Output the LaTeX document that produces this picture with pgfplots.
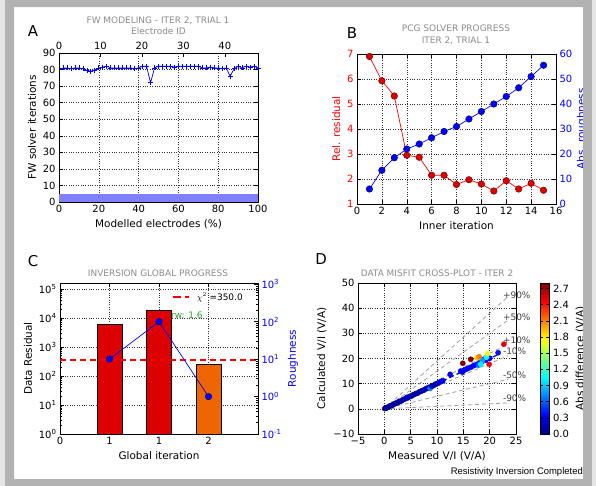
\documentclass[border=0pt]{standalone}
\usepackage{fontspec}
\setmainfont{DejaVu Sans}
\newfontfamily\liberation{Liberation Sans}
\usepackage{pgfplots}
\usepackage{pgfplotstable}
\pgfplotsset{compat=1.18}

\definecolor{barred}{RGB}{221,0,0}
\definecolor{barorange}{RGB}{238,102,0}
\definecolor{ttlgray}{RGB}{140,140,140}
\definecolor{framegray}{RGB}{178,178,178}
\definecolor{rwgreen}{RGB}{40,160,40}

\newcommand{\fs}[1]{\fontsize{#1}{#1}\selectfont}

\pgfplotsset{
  mpl/.style={
    scale only axis,
    tick align=inside,
    major tick length=4bp,
    minor tick length=2bp,
    tick style={black, line width=0.5pt},
    axis line style={black, line width=0.6pt},
    grid=major,
    grid style={dotted, black!80, line width=0.5pt},
    tick label style={font=\fs{10}},
    label style={font=\fs{10.5}},
    /pgf/number format/assume math mode=true,
  },
}
\tikzset{pctlab/.style={black!75, anchor=west, font=\fs{9}, inner sep=0pt}}

% FW solver iterations per modelled electrode (%)
\pgfplotstableread{
pct iters
2 81
4 81
6 80.5
8 81
10 81
12 80.5
14 79.5
16 79
18 79.5
20 81
22 81.5
24 82
26 81
28 81
30 81
32 81
34 81
36 81
38 80.5
40 81
42 82
44 82
46 72
48 81
50 82
52 82
54 82
56 82
58 81.5
60 82
62 82
64 82
66 82
68 82
70 82
72 81
74 81
76 81.5
78 81
80 81
82 80.5
84 81
86 76
88 80.5
90 82
92 81
94 82
96 81.5
98 82
100 81
}\fwdata

% measured, calculated, abs difference
\pgfplotstableread{
meas calc diff
0.1 0.1 0.0
0.2 0.3 0.05
0.3 0.2 0.1
0.4 0.5 0.05
0.6 0.6 0.0
0.8 0.7 0.1
1.0 1.1 0.1
1.2 1.2 0.0
1.5 1.4 0.1
1.7 1.8 0.1
2.0 2.0 0.05
2.2 2.3 0.1
2.5 2.4 0.1
2.8 2.9 0.1
3.0 3.0 0.05
3.3 3.2 0.1
3.6 3.7 0.15
3.9 3.9 0.05
4.2 4.3 0.1
4.3 4.6 0.35
4.5 4.4 0.2
4.8 4.9 0.1
5.1 5.0 0.1
5.4 5.5 0.15
5.7 5.7 0.05
6.0 6.1 0.1
6.3 6.2 0.15
6.6 6.7 0.1
6.9 6.9 0.05
7.2 7.3 0.2
7.5 7.4 0.15
7.8 7.9 0.1
8.1 8.1 0.1
8.4 8.5 0.2
8.7 8.1 0.7
9.0 9.1 0.15
9.3 9.2 0.1
9.6 9.7 0.2
9.9 10.0 0.1
10.2 10.2 0.15
10.5 10.6 0.2
10.8 10.9 0.25
11.1 11.2 0.3
12.5 13.7 0.35
14.5 15.0 0.35
14.8 14.6 0.3
15.2 15.4 0.3
15.6 15.8 0.35
16.0 16.2 0.3
16.5 16.6 0.35
17.0 17.2 0.3
17.5 17.6 0.35
18.0 18.3 0.4
18.5 18.7 0.35
18.8 19.6 0.4
19.2 19.3 0.35
19.5 20.0 0.4
20.0 20.1 0.35
21.6 22.3 0.4
17.9 17.4 0.6
18.6 19.1 0.8
18.3 17.7 1.0
19.4 20.5 1.1
19.6 22.0 1.7
17.6 20.2 1.9
18.0 20.7 2.1
19.9 17.7 2.5
22.7 25.7 2.5
14.9 18.1 2.8
16.4 19.7 2.8
}\misfit

\begin{document}
\begin{tikzpicture}
\useasboundingbox (0,0) rectangle (596bp,-486bp);
\fill[white] (0,0) rectangle (596bp,-486bp);

% ---------------- A
\begin{axis}[mpl, at={(59bp,-202bp)}, anchor=south west,
  width=199bp, height=149bp,
  xmin=0, xmax=100, ymin=0, ymax=90,
  xtick={0,20,...,100}, ytick={0,10,...,90},
  xtick pos=bottom, ytick pos=both,
  xlabel={Modelled electrodes (\%)},
  ylabel={FW solver iterations}]
\addplot[draw=none, fill=blue!50] coordinates {(0,0) (100,0) (100,5) (0,5)} -- cycle;
\addplot[blue, line width=0.7pt, mark=+, mark size=2.5bp] table[x=pct, y=iters] {\fwdata};
\end{axis}
\begin{axis}[mpl, at={(59bp,-202bp)}, anchor=south west,
  width=199bp, height=149bp,
  xmin=0, xmax=48, ymin=0, ymax=90,
  axis x line*=top, hide y axis, grid=none,
  xtick={0,10,...,40},
  xlabel={Electrode ID}, xlabel style={ttlgray, font=\fs{9}}]
\end{axis}

% ---------------- B
\begin{axis}[mpl, at={(357bp,-204bp)}, anchor=south west,
  width=199bp, height=150bp,
  xmin=0, xmax=16, ymin=1, ymax=7,
  xtick={0,2,...,16}, ytick={1,...,7},
  xtick pos=both, ytick pos=left,
  yticklabel style={red},
  xlabel={Inner iteration},
  ylabel={Rel. residual}, ylabel style={red}]
\addplot[red, line width=0.7pt, mark=*, mark size=3.3bp,
  mark options={fill=barred, draw=red!40!black, line width=0.4pt}]
  coordinates {(1,6.9) (2,5.93) (3,5.32) (4,2.95) (5,2.87) (6,2.15) (7,2.15)
   (8,1.78) (9,1.97) (10,1.8) (11,1.52) (12,1.93) (13,1.6) (14,1.83) (15,1.55)};
\end{axis}
\begin{axis}[mpl, at={(357bp,-204bp)}, anchor=south west,
  width=199bp, height=150bp,
  xmin=0, xmax=16, ymin=0, ymax=60,
  ytick={0,10,...,60},
  axis y line*=right, axis x line=none, grid=none,
  yticklabel style={blue},
  ylabel={Abs. roughness},
  ylabel style={blue, at={([xshift=26bp]rel axis cs:1,0.5)}, anchor=center}]
\addplot[blue, line width=0.7pt, mark=*, mark size=3.3bp,
  mark options={fill=blue, draw=blue!40!black, line width=0.4pt}]
  coordinates {(1,6) (2,13.5) (3,18.5) (4,22) (5,24) (6,26.5) (7,29) (8,31)
   (9,34) (10,37) (11,40) (12,43) (13,46.5) (14,51) (15,55.5)};
\end{axis}

% ---------------- C
\begin{axis}[mpl, at={(60bp,-434bp)}, anchor=south west,
  width=198bp, height=151bp,
  xmin=0, xmax=4, ymode=log, ymin=1, ymax=158000,
  xtick={0,1,2,3}, xticklabels={0,1,1,2},
  ytick={1,10,100,1000,10000,100000},
  yticklabels={10\textsuperscript{0},10\textsuperscript{1},10\textsuperscript{2},10\textsuperscript{3},10\textsuperscript{4},10\textsuperscript{5}},
  xtick pos=both, ytick pos=left,
  xlabel={Global iteration}, ylabel={Data Residual}]
\addplot[ybar, bar width=0.5, bar shift=0pt, fill=barred, draw=black]
  coordinates {(1,6000) (2,18000)};
\addplot[ybar, bar width=0.5, bar shift=0pt, fill=barorange, draw=black]
  coordinates {(3,247)};
\addplot[red, line width=1.6pt, dash pattern=on 6bp off 4bp]
  coordinates {(0,350) (4,350)};
% legend for the chi^2 target line
\draw[red, line width=1.6pt, dash pattern=on 8bp off 4bp] (rel axis cs:0.571,0.907) -- (rel axis cs:0.65,0.907);
\node[anchor=west, font=\fs{9}, inner sep=0pt] at (rel axis cs:0.69,0.907) {$\chi^2$ =350.0};
\node[rwgreen, anchor=west, font=\fs{9}, inner sep=0pt] at (axis cs:2.24,12000) {rw: 1.6};
\end{axis}
\begin{axis}[mpl, at={(60bp,-434bp)}, anchor=south west,
  width=198bp, height=151bp,
  xmin=0, xmax=4, ymode=log, ymin=0.1, ymax=1080,
  ytick={0.1,1,10,100,1000},
  yticklabels={10\textsuperscript{-1},10\textsuperscript{0},10\textsuperscript{1},10\textsuperscript{2},10\textsuperscript{3}},
  axis y line*=right, axis x line=none, grid=none,
  yticklabel style={blue},
  ylabel={Roughness},
  ylabel style={blue, at={([xshift=35bp]rel axis cs:1,0.5)}, anchor=center}]
\addplot[blue, line width=0.7pt, mark=*, mark size=3.3bp,
  mark options={fill=blue, draw=blue!40!black, line width=0.4pt}]
  coordinates {(1,10) (2,100) (3,1)};
\end{axis}

% ---------------- D
\begin{axis}[mpl, at={(358bp,-434bp)}, anchor=south west,
  width=158bp, height=151bp,
  xmin=-5, xmax=25, ymin=-10, ymax=50,
  xtick={-5,0,...,25}, xticklabels={−5,0,5,10,15,20,25},
  ytick={-10,0,...,50}, yticklabels={−10,0,10,20,30,40,50},
  xtick pos=both, ytick pos=both, clip=false,
  xlabel={Measured V/I (V/A)}, ylabel={Calculated V/I (V/A)},
  colormap/jet, point meta min=0, point meta max=2.8,
  colorbar,
  colorbar style={width=9bp, xshift=-0.3cm+10bp,
    ytick={0,0.3,0.6,0.9,1.2,1.5,1.8,2.1,2.4,2.7},
    yticklabel style={font=\fs{10}, /pgf/number format/.cd, fixed, fixed zerofill, precision=1, assume math mode=true},
    ylabel={Abs difference (V/A)}, ylabel style={font=\fs{10.5}},
    tick align=inside, major tick length=3bp}]
\addplot[gray!75, line width=0.8pt, dash pattern=on 4bp off 3bp, forget plot] coordinates {(0,0) (23.5,44.65)};
\addplot[gray!75, line width=0.8pt, dash pattern=on 4bp off 3bp, forget plot] coordinates {(0,0) (23.5,35.25)};
\addplot[gray!75, line width=0.8pt, dash pattern=on 4bp off 3bp, forget plot] coordinates {(0,0) (23.5,25.85)};
\addplot[gray!75, line width=0.8pt, dash pattern=on 4bp off 3bp, forget plot] coordinates {(0,0) (23.5,21.15)};
\addplot[gray!75, line width=0.8pt, dash pattern=on 4bp off 3bp, forget plot] coordinates {(0,0) (23.5,11.75)};
\addplot[gray!75, line width=0.8pt, dash pattern=on 4bp off 3bp, forget plot] coordinates {(0,0) (23.5,2.35)};
\addplot[blue!70!black, line width=1.2pt, dash pattern=on 5bp off 3bp, forget plot] coordinates {(0,0) (22,22)};
\addplot[scatter, only marks, mark=*, mark size=2.6bp, point meta=explicit,
  scatter/use mapped color={draw=mapped color, fill=mapped color}]
  table[x=meas, y=calc, meta=diff] {\misfit};
\node[pctlab] at (axis cs:22.5,45.2) {+90\%};
\node[pctlab] at (axis cs:22.5,36.3) {+50\%};
\node[pctlab] at (axis cs:22.5,27.3) {+10\%};
\node[pctlab] at (axis cs:22.5,23) {-10\%};
\node[pctlab] at (axis cs:22.5,13.4) {-50\%};
\node[pctlab] at (axis cs:22.5,4.2) {-90\%};
\end{axis}

% ---------------- titles and labels
\node[ttlgray, font=\fs{9}] at (158bp,-21bp) {FW MODELING - ITER 2, TRIAL 1};
\node[ttlgray, font=\fs{9}] at (456bp,-28bp) {PCG SOLVER PROGRESS};
\node[ttlgray, font=\fs{9}] at (456bp,-41bp) {ITER 2, TRIAL 1};
\node[ttlgray, font=\fs{9}] at (158bp,-273bp) {INVERSION GLOBAL PROGRESS};
\node[ttlgray, font=\fs{9}] at (437bp,-273bp) {DATA MISFIT CROSS-PLOT - ITER 2};
\node[font=\fs{15}] at (33bp,-31bp) {A};
\node[font=\fs{15}] at (352bp,-33bp) {B};
\node[font=\fs{15}] at (33bp,-261bp) {C};
\node[font=\fs{15}] at (321bp,-259bp) {D};
\node[anchor=east, font=\liberation\fs{9.5}, inner sep=0pt] at (583bp,-472bp) {Resistivity Inversion Completed};

% frame
\fill[framegray, even odd rule] (0,0) rectangle (596bp,-486bp) (14bp,-7bp) rectangle (583bp,-479bp);
\fill[gray!20] (0,0) rectangle (5bp,-486bp);
\fill[gray!20] (592bp,0) rectangle (596bp,-486bp);
\end{tikzpicture}
\end{document}
